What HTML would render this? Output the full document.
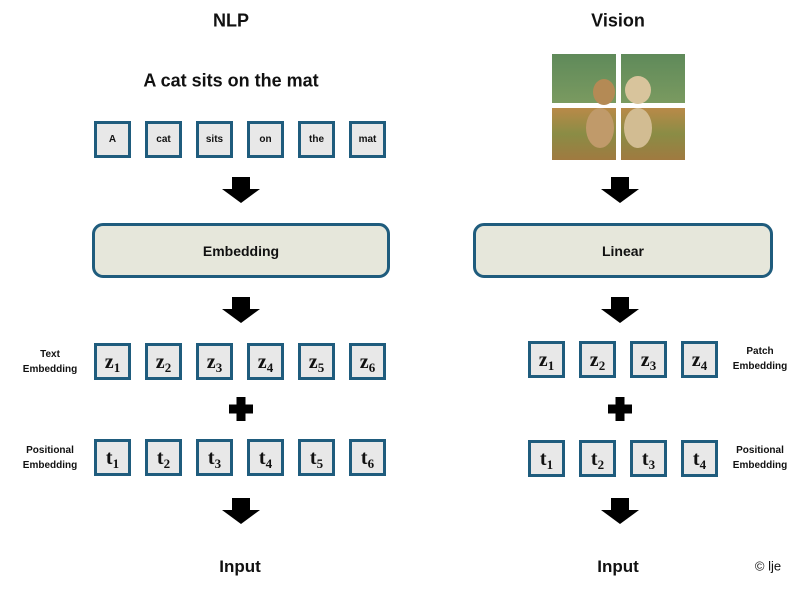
<!DOCTYPE html>
<html><head><style>
body{margin:0;width:809px;height:595px;background:#fff;font-family:"Liberation Sans",sans-serif;position:relative;overflow:hidden}
.a{position:absolute}
.t{position:absolute;font-weight:bold;color:#111;text-align:center;white-space:nowrap;transform:translate(-50%,-50%)}
.b{position:absolute;width:31px;height:31px;border:3px solid #1f5c7d;background:#e8e8e8;display:flex;align-items:center;justify-content:center;font-weight:bold;font-size:10px;color:#111}
.m{font-family:"Liberation Serif",serif;font-size:20px}
.m span{display:inline-block;line-height:20px}
.m sub{font-size:13px;vertical-align:-4px;line-height:0}
.big{position:absolute;border:3px solid #1f5c7d;border-radius:11px;background:#e6e7db;display:flex;align-items:center;justify-content:center;font-weight:bold;font-size:14px;color:#111}
.lab{position:absolute;font-weight:bold;font-size:10px;text-align:center;line-height:15px;color:#111;transform:translate(-50%,-50%)}
</style></head><body>
<div class="t" style="left:231px;top:21px;font-size:18px">NLP</div>
<div class="t" style="left:618px;top:21px;font-size:18px">Vision</div>
<div class="t" style="left:231px;top:81px;font-size:18px">A cat sits on the mat</div>
<div class="t" style="left:240px;top:567px;font-size:17px">Input</div>
<div class="t" style="left:618px;top:567px;font-size:17px">Input</div>
<div class="t" style="left:768px;top:566px;font-size:13px;font-weight:normal">© lje</div>

<div class="b" style="left:94px;top:121px">A</div>
<div class="b" style="left:145px;top:121px">cat</div>
<div class="b" style="left:196px;top:121px">sits</div>
<div class="b" style="left:247px;top:121px">on</div>
<div class="b" style="left:298px;top:121px">the</div>
<div class="b" style="left:349px;top:121px">mat</div>

<div class="big" style="left:92px;top:223px;width:292px;height:49px">Embedding</div>
<div class="big" style="left:473px;top:223px;width:294px;height:49px">Linear</div>

<div class="lab" style="left:50px;top:362px">Text<br>Embedding</div>
<div class="lab" style="left:50px;top:458px">Positional<br>Embedding</div>
<div class="lab" style="left:760px;top:359px">Patch<br>Embedding</div>
<div class="lab" style="left:760px;top:458px">Positional<br>Embedding</div>

<div class="b m" style="left:94px;top:343px"><span>z<sub>1</sub></span></div>
<div class="b m" style="left:145px;top:343px"><span>z<sub>2</sub></span></div>
<div class="b m" style="left:196px;top:343px"><span>z<sub>3</sub></span></div>
<div class="b m" style="left:247px;top:343px"><span>z<sub>4</sub></span></div>
<div class="b m" style="left:298px;top:343px"><span>z<sub>5</sub></span></div>
<div class="b m" style="left:349px;top:343px"><span>z<sub>6</sub></span></div>
<div class="b m" style="left:94px;top:439px"><span>t<sub>1</sub></span></div>
<div class="b m" style="left:145px;top:439px"><span>t<sub>2</sub></span></div>
<div class="b m" style="left:196px;top:439px"><span>t<sub>3</sub></span></div>
<div class="b m" style="left:247px;top:439px"><span>t<sub>4</sub></span></div>
<div class="b m" style="left:298px;top:439px"><span>t<sub>5</sub></span></div>
<div class="b m" style="left:349px;top:439px"><span>t<sub>6</sub></span></div>

<div class="b m" style="left:528px;top:341px"><span>z<sub>1</sub></span></div>
<div class="b m" style="left:579px;top:341px"><span>z<sub>2</sub></span></div>
<div class="b m" style="left:630px;top:341px"><span>z<sub>3</sub></span></div>
<div class="b m" style="left:681px;top:341px"><span>z<sub>4</sub></span></div>
<div class="b m" style="left:528px;top:440px"><span>t<sub>1</sub></span></div>
<div class="b m" style="left:579px;top:440px"><span>t<sub>2</sub></span></div>
<div class="b m" style="left:630px;top:440px"><span>t<sub>3</sub></span></div>
<div class="b m" style="left:681px;top:440px"><span>t<sub>4</sub></span></div>

<svg class="a" style="left:0;top:0" width="809" height="595">
<defs><g id="ar"><rect x="-9" y="0" width="18" height="12" fill="#000"/><polygon points="-19,12 19,12 0,26" fill="#000"/></g>
<g id="pl"><rect x="-4.5" y="-12" width="9" height="24"/><rect x="-12" y="-4.5" width="24" height="9"/></g>
<linearGradient id="top" x1="0" y1="0" x2="0" y2="1"><stop offset="0" stop-color="#5f8a5a"/><stop offset="1" stop-color="#7a9a60"/></linearGradient>
<linearGradient id="bot" x1="0" y1="0" x2="0" y2="1"><stop offset="0" stop-color="#b98a48"/><stop offset=".5" stop-color="#8a8c45"/><stop offset="1" stop-color="#a07a40"/></linearGradient></defs>
<use href="#ar" x="241" y="177"/><use href="#ar" x="241" y="297"/><use href="#ar" x="241" y="498"/>
<use href="#ar" x="620" y="177"/><use href="#ar" x="620" y="297"/><use href="#ar" x="620" y="498"/>
<use href="#pl" x="241" y="409"/><use href="#pl" x="620" y="409"/>
<rect x="552" y="54" width="64" height="49" fill="url(#top)"/>
<rect x="621" y="54" width="64" height="49" fill="url(#top)"/>
<rect x="552" y="108" width="64" height="52" fill="url(#bot)"/>
<rect x="621" y="108" width="64" height="52" fill="url(#bot)"/>
<ellipse cx="604" cy="92" rx="11" ry="13" fill="#b48a55"/>
<ellipse cx="600" cy="128" rx="14" ry="20" fill="#c09a6a"/>
<ellipse cx="638" cy="90" rx="13" ry="14" fill="#d8c49c"/>
<ellipse cx="638" cy="128" rx="14" ry="20" fill="#d2bc92"/>
</svg>
</body></html>
